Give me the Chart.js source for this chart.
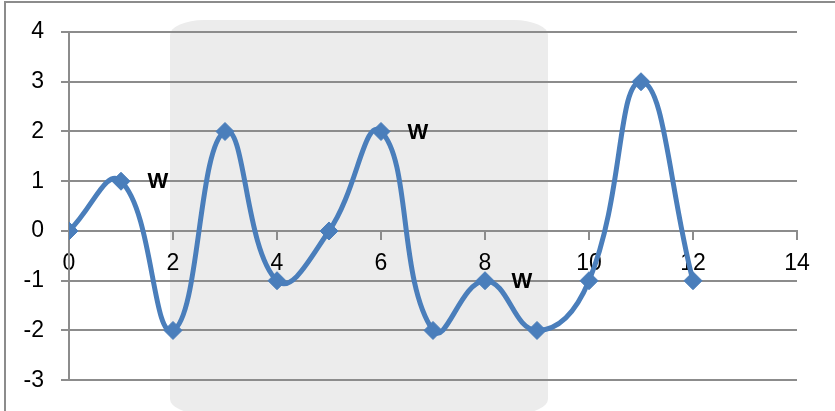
<!DOCTYPE html>
<html>
<head>
<meta charset="utf-8">
<title>Smoothed scatter</title>
<script src="https://cdn.jsdelivr.net/npm/chart.js@4/dist/chart.umd.min.js"></script>
<style>
  html, body { margin: 0; padding: 0; background: #ffffff; }
  #wrap { width: 835px; height: 411px; }
</style>
</head>
<body>
<div id="wrap"><canvas id="chart" width="835" height="411"></canvas></div>
<script>
// Series values
const xValues = [0, 1, 2, 3, 4, 5, 6, 7, 8, 9, 10, 11, 12];
const yValues = [0, 1, -2, 2, -1, 0, 2, -2, -1, -2, -1, 3, -1];
// Text tags shown beside selected points
const pointTags = ['', 'W', '', '', '', '', 'W', '', 'W', '', '', '', ''];
// Axis ranges and tick steps
const xRange = [0, 14];
const xStep = 2;
const yRange = [-3, 4];
const yStep = 1;

const points = xValues.map((x, i) => ({ x: x, y: yValues[i] }));

const FONT = "'Liberation Sans', Arial, sans-serif";
const GRID = '#8c8c8c';
const BLUE = '#4a7ebb';

// Frame and the shaded rounded panel behind the plot
const backdrop = {
  id: 'backdrop',
  beforeDraw(chart) {
    const ctx = chart.ctx;
    ctx.save();
    ctx.fillStyle = '#ffffff';
    ctx.fillRect(0, 0, chart.width, chart.height);
    // rounded panel
    const l = 170, r = 548, t = 20, b = 414, rx = 34, ry = 15;
    ctx.fillStyle = '#ececec';
    ctx.beginPath();
    ctx.moveTo(l + rx, t);
    ctx.lineTo(r - rx, t);
    ctx.ellipse(r - rx, t + ry, rx, ry, 0, -Math.PI / 2, 0);
    ctx.lineTo(r, b - ry);
    ctx.ellipse(r - rx, b - ry, rx, ry, 0, 0, Math.PI / 2);
    ctx.lineTo(l + rx, b);
    ctx.ellipse(l + rx, b - ry, rx, ry, 0, Math.PI / 2, Math.PI);
    ctx.lineTo(l, t + ry);
    ctx.ellipse(l + rx, t + ry, rx, ry, 0, Math.PI, Math.PI * 1.5);
    ctx.closePath();
    ctx.fill();
    // outer frame
    ctx.strokeStyle = GRID;
    ctx.lineWidth = 2;
    ctx.strokeRect(5, 2, 1000, 1000);
    ctx.restore();
  }
};

// Bold tags to the right of tagged points
const tagLabels = {
  id: 'tagLabels',
  afterDatasetsDraw(chart) {
    const ctx = chart.ctx;
    const meta = chart.getDatasetMeta(0);
    ctx.save();
    ctx.font = "bold 22px " + FONT;
    ctx.fillStyle = '#000000';
    ctx.textAlign = 'center';
    ctx.textBaseline = 'middle';
    meta.data.forEach((el, i) => {
      const tag = pointTags[i];
      if (tag) ctx.fillText(tag, el.x + 37, el.y + 1);
    });
    ctx.restore();
  }
};

new Chart(document.getElementById('chart'), {
  type: 'scatter',
  data: {
    datasets: [{
      data: points,
      showLine: true,
      borderColor: BLUE,
      backgroundColor: BLUE,
      borderWidth: 5,
      tension: 0.45,
      pointStyle: 'rectRot',
      pointRadius: 9,
      pointBorderWidth: 1,
      pointBackgroundColor: BLUE,
      pointBorderColor: BLUE
    }]
  },
  options: {
    responsive: false,
    animation: false,
    devicePixelRatio: 1,
    layout: { padding: { left: 0, right: 38, top: 32, bottom: 29 } },
    plugins: {
      legend: { display: false },
      tooltip: { enabled: false },
      title: { display: false }
    },
    scales: {
      x: {
        type: 'linear',
        position: { y: 0 },
        min: xRange[0],
        max: xRange[1],
        ticks: {
          stepSize: xStep,
          color: '#000000',
          font: { family: FONT, size: 23 },
          padding: 11,
          maxRotation: 0,
          autoSkip: false
        },
        grid: {
          drawOnChartArea: false,
          drawTicks: true,
          tickLength: 8,
          color: GRID,
          lineWidth: 2
        },
        border: { display: true, color: GRID, width: 2 }
      },
      y: {
        type: 'linear',
        position: 'left',
        min: yRange[0],
        max: yRange[1],
        afterFit(scale) { scale.width = 69; },
        ticks: {
          stepSize: yStep,
          color: '#000000',
          font: { family: FONT, size: 23 },
          padding: 17
        },
        grid: {
          color: GRID,
          lineWidth: 2,
          drawTicks: true,
          tickLength: 8
        },
        border: { display: true, color: GRID, width: 2 }
      }
    }
  },
  plugins: [backdrop, tagLabels]
});
</script>
</body>
</html>
